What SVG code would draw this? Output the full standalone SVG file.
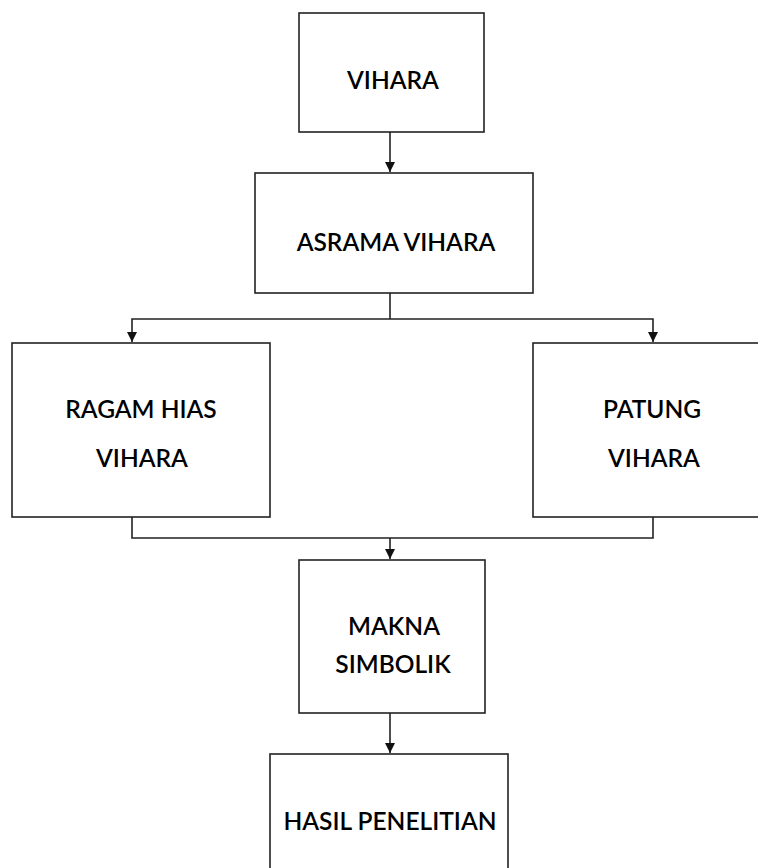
<svg xmlns="http://www.w3.org/2000/svg" width="758" height="868" viewBox="0 0 758 868">
<style>
.box{fill:#fff;stroke:#222;stroke-width:1.6}
.lbl{font-family:Lato,"Open Sans","Liberation Sans",sans-serif;font-size:24.5px;font-weight:600;fill:#000;text-anchor:middle}
.con{fill:none;stroke:#222;stroke-width:1.6}
</style>
<defs>
<marker id="ah" markerWidth="12" markerHeight="12" refX="10" refY="5" orient="auto" markerUnits="userSpaceOnUse">
<path d="M0,0 L10,5 L0,10 Z" fill="#111"/>
</marker>
</defs>
<rect width="758" height="868" fill="#fff"/>
<g id="vihara"><rect class="box" x="299" y="13" width="185" height="119"/><text class="lbl" x="393" y="89">VIHARA</text></g>
<g id="asrama"><rect class="box" x="255" y="173" width="278" height="120"/><text class="lbl" x="396" y="251">ASRAMA VIHARA</text></g>
<g id="ragam"><rect class="box" x="12" y="343" width="258" height="174"/><text class="lbl" x="141" y="418">RAGAM HIAS</text><text class="lbl" x="142" y="467">VIHARA</text></g>
<g id="patung"><rect class="box" x="533" y="343" width="240" height="174"/><text class="lbl" x="652" y="418">PATUNG</text><text class="lbl" x="654" y="467">VIHARA</text></g>
<g id="makna"><rect class="box" x="299" y="560" width="186" height="153"/><text class="lbl" x="394" y="635">MAKNA</text><text class="lbl" x="393" y="673">SIMBOLIK</text></g>
<g id="hasil"><rect class="box" x="270" y="754" width="238" height="130"/><text class="lbl" x="390" y="830">HASIL PENELITIAN</text></g>
<g id="connectors">
<path class="con" d="M390,132 V172" marker-end="url(#ah)"/>
<path class="con" d="M390,293 V319"/>
<path class="con" d="M390,319 H132 V342" marker-end="url(#ah)"/>
<path class="con" d="M390,319 H653 V342" marker-end="url(#ah)"/>
<path class="con" d="M132,517 V538 H653 V517"/>
<path class="con" d="M390,538 V559" marker-end="url(#ah)"/>
<path class="con" d="M390,713 V753" marker-end="url(#ah)"/>
</g>
</svg>
